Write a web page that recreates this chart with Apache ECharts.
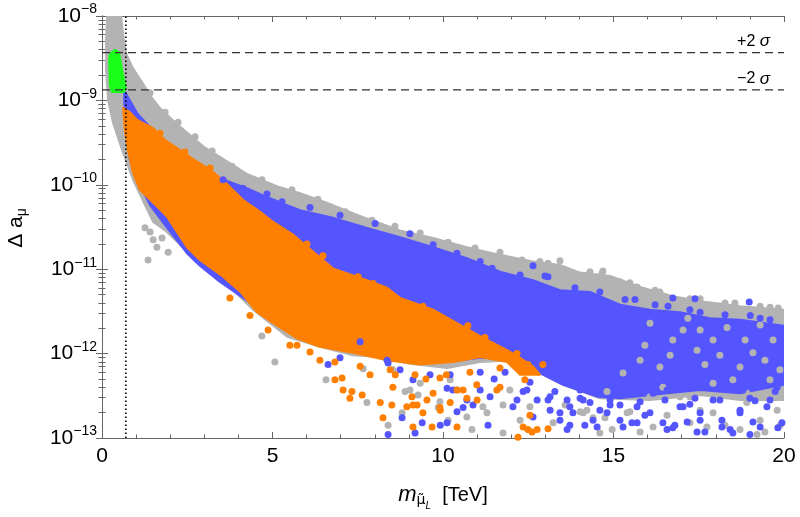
<!DOCTYPE html>
<html><head><meta charset="utf-8">
<script src="https://cdn.jsdelivr.net/npm/echarts@6/dist/echarts.min.js"></script>
<style>html,body{margin:0;padding:0;background:#fff}#c{width:800px;height:517px}</style>
</head><body><div id="c"></div>
<script>
// Axis ticks
const xTicks = [0, 5, 10, 15, 20];
const yTickExponents = [-13, -12, -11, -10, -9, -8];
// Reference lines
const sigmaLabels = ['+2 ', '\u22122 '];
const sigmaValues = [3.69e-9, 1.33e-9];
const massLimitTeV = 0.70;

// All pairs: [m_muL (TeV), log10(Δa_μ)]
// Dense regions (outlines of the point clouds)
const grayCore = [[0.15,-8.00],[0.56,-8.00],[0.62,-8.22],[0.70,-8.44],[0.91,-8.62],[1.17,-8.78],[1.41,-8.94],[1.70,-9.09],[2.14,-9.26],[2.58,-9.41],[3.02,-9.56],[3.46,-9.67],[4.25,-9.87],[5.22,-10.03],[5.81,-10.10],[6.77,-10.24],[7.77,-10.40],[8.74,-10.54],[9.71,-10.63],[10.70,-10.74],[11.67,-10.83],[12.64,-10.91],[13.43,-10.95],[14.02,-11.04],[14.90,-11.08],[15.78,-11.21],[16.74,-11.32],[17.74,-11.39],[18.71,-11.44],[20.00,-11.48],[20.00,-12.55],[18.71,-12.55],[17.54,-12.49],[16.07,-12.55],[14.60,-12.53],[13.52,-12.37],[12.84,-12.23],[12.05,-12.08],[11.09,-12.10],[10.12,-12.17],[9.03,-12.12],[8.15,-12.04],[7.36,-12.02],[6.39,-11.92],[5.43,-11.80],[4.43,-11.48],[3.55,-11.13],[2.87,-10.94],[2.29,-10.71],[1.85,-10.54],[1.50,-10.44],[1.26,-10.24],[0.91,-9.94],[0.59,-9.59],[0.32,-9.26],[0.18,-9.00],[0.12,-8.64],[0.12,-8.28]];
const blueCore = [[0.65,-8.88],[0.82,-9.00],[1.03,-9.15],[1.35,-9.29],[1.70,-9.43],[2.38,-9.67],[2.87,-9.80],[3.37,-9.91],[4.25,-10.04],[4.93,-10.16],[5.43,-10.24],[5.81,-10.30],[6.77,-10.39],[7.77,-10.51],[8.74,-10.62],[9.71,-10.74],[10.70,-10.87],[11.67,-11.03],[12.64,-11.13],[13.43,-11.25],[14.31,-11.27],[15.19,-11.42],[16.07,-11.48],[16.95,-11.51],[17.83,-11.58],[18.71,-11.60],[20.00,-11.67],[20.00,-12.37],[18.71,-12.47],[17.54,-12.43],[16.36,-12.48],[15.19,-12.53],[14.52,-12.51],[13.52,-12.37],[12.84,-12.23],[12.05,-12.05],[11.09,-12.05],[10.12,-12.10],[8.74,-12.02],[7.36,-11.92],[6.39,-11.84],[5.43,-11.72],[4.43,-11.42],[3.46,-11.15],[2.87,-10.96],[2.49,-10.81],[1.91,-10.51],[1.41,-10.24],[1.03,-9.94],[0.82,-9.71],[0.70,-9.35],[0.65,-9.00]];
const orangeCore = [[0.62,-9.09],[0.82,-9.14],[1.03,-9.23],[1.50,-9.33],[1.85,-9.47],[2.29,-9.59],[2.73,-9.71],[3.17,-9.82],[3.61,-9.97],[4.14,-10.18],[4.64,-10.32],[5.02,-10.44],[5.60,-10.59],[5.95,-10.71],[6.39,-10.86],[6.77,-10.99],[7.77,-11.13],[8.36,-11.22],[8.74,-11.34],[9.71,-11.48],[10.50,-11.66],[11.17,-11.81],[11.88,-11.96],[12.26,-12.05],[12.64,-12.15],[12.84,-12.25],[12.26,-12.25],[11.88,-12.10],[11.09,-12.04],[10.30,-12.10],[9.32,-12.13],[8.36,-12.08],[7.36,-11.99],[6.39,-11.92],[5.72,-11.82],[5.02,-11.64],[4.55,-11.51],[4.06,-11.27],[3.55,-11.09],[2.87,-10.89],[2.49,-10.74],[1.91,-10.38],[1.62,-10.26],[1.11,-10.06],[0.91,-9.86],[0.76,-9.59],[0.67,-9.35]];
const greenCore = [[0.38,-8.40],[0.50,-8.43],[0.59,-8.64],[0.70,-8.85],[0.65,-8.90],[0.29,-8.90],[0.23,-8.82],[0.21,-8.52],[0.23,-8.45]];

// Individual points (edges and sparse areas)
const grayPoints = [[1.41,-10.56],[1.50,-10.65],[1.76,-10.63],[1.61,-10.74],[1.94,-10.80],[1.35,-10.89],[1.26,-10.51],[4.69,-11.79],[5.07,-12.10],[6.57,-12.31],[7.66,-12.18],[7.77,-12.58],[8.39,-12.85],[8.80,-12.70],[8.89,-12.45],[9.27,-12.49],[9.86,-12.64],[10.15,-12.79],[10.21,-12.31],[10.70,-12.75],[10.85,-12.90],[11.29,-12.70],[11.76,-12.94],[12.26,-12.79],[13.23,-12.82],[13.58,-12.61],[14.11,-12.70],[14.40,-12.76],[14.96,-12.90],[15.48,-12.69],[16.16,-12.87],[16.57,-12.73],[17.24,-12.82],[17.92,-12.70],[18.71,-12.90],[19.30,-12.79],[19.80,-12.67],[19.89,-12.85],[12.84,-10.91],[13.43,-10.90],[14.69,-11.02],[15.19,-11.15],[16.22,-11.25],[17.24,-11.35],[18.27,-11.40],[19.30,-11.44],[19.83,-11.46],[14.66,-11.05],[15.69,-11.21],[17.54,-11.39],
  [1.41,-8.91],[1.85,-9.14],[2.23,-9.26],[2.73,-9.43],[3.23,-9.60],[3.81,-9.78],[4.69,-9.94],[5.57,-10.06],[6.33,-10.17],[7.13,-10.32],[7.92,-10.42],[8.59,-10.49],[9.33,-10.57],[10.15,-10.68],[10.94,-10.75],[11.67,-10.80],[12.32,-10.89],[13.08,-10.93],[14.31,-11.03],[15.48,-11.16],[16.36,-11.27],[17.54,-11.35],[18.56,-11.40],[19.59,-11.45],
  [8.53,-12.19],[9.03,-12.43],[9.33,-12.35],[9.91,-12.57],[10.41,-12.43],[11.17,-12.63],[11.76,-12.61],[11.96,-12.43],[12.55,-12.63],[14.22,-12.67],[14.75,-12.76],[15.78,-12.93],[17.54,-12.67],[18.27,-12.85],[19.44,-12.93],
  [14.02,-12.69],[15.40,-12.70],[16.95,-12.51],[17.74,-12.87],[18.91,-12.58],[19.21,-12.96],[16.07,-12.51],[14.81,-12.45],[14.60,-12.94]];
// gray points visible in the gaps between blue points (right part)
const grayGapPoints = [[16.07,-11.64],[16.74,-11.84],[17.04,-11.72],[17.45,-11.96],[17.92,-11.84],[18.33,-11.69],[18.71,-12.16],[19.09,-11.99],[19.68,-11.84],[18.50,-12.31],[17.92,-12.35],[16.36,-12.16],[15.78,-12.08],[15.28,-12.23],[16.45,-12.40],[17.24,-12.51],[18.91,-12.47],[19.59,-12.31],[17.68,-12.13],[19.30,-11.66],[17.18,-11.58],
  [15.92,-11.90],[16.66,-12.02],[18.12,-12.02],[18.86,-11.84],[19.44,-12.08],[17.54,-11.72],[19.88,-12.19]];
const bluePoints = [[8.39,-12.96],[9.18,-12.94],[10.12,-12.82],[10.41,-12.69],[10.88,-12.61],[11.32,-12.85],[12.05,-12.63],[12.64,-12.75],[13.08,-12.55],[13.64,-12.90],[13.81,-12.70],[14.52,-12.87],[14.90,-12.55],[15.54,-12.82],[15.69,-12.63],[16.16,-12.47],[16.57,-12.90],[17.04,-12.63],[17.54,-12.79],[17.92,-12.55],[18.42,-12.90],[18.71,-12.67],[19.30,-12.87],[19.59,-12.55],[19.94,-12.82],[19.80,-12.40],[18.80,-12.43],[16.57,-12.43],[15.10,-12.40],[6.63,-12.13],[7.57,-11.86],[8.36,-12.08],[8.80,-12.76],[9.39,-12.82],[9.92,-12.85],[10.29,-12.43],[10.59,-12.64],[13.87,-11.22],[15.34,-11.36],[16.22,-11.42],[17.54,-11.51],[19.01,-11.55],[19.59,-11.60],[13.08,-11.09],[16.74,-11.34],[17.39,-11.35],[18.98,-11.39],[6.98,-12.05],[17.24,-12.60],[19.15,-12.56],[14.60,-12.67],[12.35,-12.45],[11.50,-12.30],
  [3.55,-9.94],[4.13,-10.04],[4.84,-10.11],[5.28,-10.20],[6.10,-10.27],[6.98,-10.36],[8.01,-10.46],[9.03,-10.58],[9.71,-10.71],[10.41,-10.81],[11.09,-10.91],[11.44,-10.99],[12.26,-11.07],[12.64,-10.96],[12.99,-11.08],[14.60,-11.27],[15.63,-11.36],[16.60,-11.44],[17.24,-11.48],[18.27,-11.54],[19.30,-11.58],
  [10.21,-12.25],[11.09,-12.22],[11.82,-12.22],[12.55,-12.34],[13.28,-12.45],[14.02,-12.53],[14.90,-12.61],[15.78,-12.57],[16.51,-12.55],[17.39,-12.53],[18.12,-12.55],[19.00,-12.53],[19.74,-12.45],
  [8.39,-12.11],[8.74,-12.19],[9.12,-12.31],[9.62,-12.25],[10.12,-12.41],[10.70,-12.55],[11.09,-12.43],[11.38,-12.51],[12.17,-12.55],[12.46,-12.43],[12.76,-12.55],[13.14,-12.67],[13.64,-12.55],[14.02,-12.43],[14.31,-12.58],
  [15.19,-12.79],[15.92,-12.73],[16.80,-12.85],[18.18,-12.79],[19.00,-12.96],[17.68,-12.93],[14.16,-12.85],[13.43,-12.79],
  [13.14,-12.51],[13.72,-12.63],[14.11,-12.55],[14.40,-12.79],[14.81,-12.70],[15.19,-12.61],[15.69,-12.82],[16.07,-12.70],[16.45,-12.82],[16.95,-12.63],[17.16,-12.81],[17.54,-12.70],[18.18,-12.87],[18.71,-12.70],[19.09,-12.81],[19.50,-12.63],[19.82,-12.88],[13.72,-12.85],[15.28,-12.87],[17.45,-12.93],[18.50,-12.94],[16.74,-12.88],[13.43,-12.70]];
const orangePoints = [[7.07,-12.43],[7.27,-12.53],[7.33,-12.45],[7.63,-12.49],[7.86,-12.25],[8.16,-12.58],[8.24,-12.76],[8.50,-12.61],[8.94,-12.63],[9.09,-12.51],[9.24,-12.61],[9.41,-12.70],[9.68,-12.87],[9.12,-12.87],[9.71,-12.47],[9.92,-12.67],[10.41,-12.43],[10.41,-12.87],[10.70,-12.53],[10.99,-12.37],[11.67,-12.40],[12.55,-12.73],[12.49,-12.90],[12.76,-12.90],[12.20,-12.99],[6.83,-12.31],[7.04,-12.29],[6.39,-12.08],[12.93,-12.13],[13.08,-12.89],[5.72,-11.90],[8.60,-12.25],[9.50,-12.30],[10.10,-12.25],
  [6.01,-10.70],[6.48,-10.84],[7.51,-11.09],[7.95,-11.17],[9.41,-11.44],[9.97,-11.63],[10.73,-11.67],[11.23,-11.81],[12.17,-12.00],[12.49,-12.13],[4.13,-10.22],[3.17,-9.80],[2.43,-9.61],[1.70,-9.39],
  [3.75,-11.34],[4.34,-11.55],[4.87,-11.72],[5.51,-11.90],[6.10,-11.98],[6.83,-12.10],[7.57,-12.15],[8.45,-12.19],[9.18,-12.25],[9.91,-12.29],[10.79,-12.22],[11.67,-12.17],[12.40,-12.31],
  [8.53,-12.40],[9.12,-12.61],[9.53,-12.55],[9.91,-12.64],[10.21,-12.58],[10.59,-12.43],[11.00,-12.55],[11.58,-12.43],[12.35,-12.87],[12.61,-12.93]];

const COL = {gray:'#b3b3b3', blue:'#5555ff', orange:'#ff8000', green:'#1aff1a'};
const toVal = p => [p[0], Math.pow(10, p[1])];
const yMin = Math.pow(10, yTickExponents[0]);
const yMax = Math.pow(10, yTickExponents[yTickExponents.length - 1]);
const xMin = xTicks[0], xMax = xTicks[xTicks.length - 1];

function polySeries(name, verts, color) {
  const data = verts.map(toVal);
  return {
    type: 'custom', name, data, clip: true, silent: true,
    encode: {x: 0, y: 1},
    renderItem(params, api) {
      if (params.dataIndex !== 0) return null;
      const pts = data.map(d => api.coord(d));
      return {type: 'polygon', shape: {points: pts},
        style: {fill: color, stroke: color, lineWidth: 2, lineJoin: 'round'}};
    }
  };
}
function dotSeries(name, pts, color) {
  return {type: 'scatter', name, data: pts.map(toVal), symbolSize: 7,
    itemStyle: {color: color, opacity: 1}, silent: true, clip: true};
}
const axisCol = '#666';
const FONT = '"Liberation Sans", Arial, sans-serif';
const yFmt = v => {
  const e = Math.round(Math.log10(v));
  return '{b|10}{s|' + (e < 0 ? '\u2212' : '') + Math.abs(e) + '}';
};
const xAxisBase = {
  type: 'value', min: xMin, max: xMax, interval: 5,
  axisLine: {show: true, lineStyle: {color: axisCol, width: 1}},
  axisTick: {show: true, inside: true, length: 6, lineStyle: {color: axisCol}},
  minorTick: {show: true, splitNumber: 5, length: 3.5, lineStyle: {color: axisCol}},
  splitLine: {show: false}, minorSplitLine: {show: false}
};
const yAxisBase = {
  type: 'log', logBase: 10, min: yMin, max: yMax,
  axisLine: {show: true, lineStyle: {color: axisCol, width: 1}},
  axisTick: {show: true, inside: true, length: 6, lineStyle: {color: axisCol}},
  minorTick: {show: true, splitNumber: 9, length: 3.5, lineStyle: {color: axisCol}},
  splitLine: {show: false}, minorSplitLine: {show: false}
};

const chart = echarts.init(document.getElementById('c'), null, {renderer: 'canvas'});
const option = {
  animation: false,
  backgroundColor: '#fff',
  grid: {left: 102, right: 16, top: 16, bottom: 79, containLabel: false},
  xAxis: [
    Object.assign({}, xAxisBase, {position: 'bottom',
      axisLabel: {show: true, margin: 8, color: '#000', fontSize: 21, fontFamily: FONT}}),
    Object.assign({}, xAxisBase, {position: 'top', axisLabel: {show: false}})
  ],
  yAxis: [
    Object.assign({}, yAxisBase, {position: 'left',
      axisLabel: {show: true, margin: 5, formatter: yFmt,
        rich: {b: {fontSize: 21, color: '#000', fontFamily: FONT},
               s: {fontSize: 14, color: '#000', fontFamily: FONT, padding: [0, 0, 13, 0]}}}}),
    Object.assign({}, yAxisBase, {position: 'right', axisLabel: {show: false}})
  ],
  series: [
    polySeries('gray', grayCore, COL.gray),
    dotSeries('grayPts', grayPoints, COL.gray),
    polySeries('blue', blueCore, COL.blue),
    dotSeries('grayGaps', grayGapPoints, COL.gray),
    dotSeries('bluePts', bluePoints, COL.blue),
    polySeries('orange', orangeCore, COL.orange),
    dotSeries('orangePts', orangePoints, COL.orange),
    polySeries('green', greenCore, COL.green),
    ...sigmaValues.map(s => ({type: 'line', data: [[xMin, s], [xMax, s]], symbol: 'none', silent: true,
      lineStyle: {color: '#333', width: 1.3, type: [8, 5]}})),
    {type: 'line', data: [[massLimitTeV, yMin], [massLimitTeV, yMax]], symbol: 'none', silent: true,
      lineStyle: {color: '#000', width: 1.6, type: [1.6, 2.4]}}
  ]
};
chart.setOption(option);

const graphics = [];
sigmaValues.forEach((s, i) => {
  const p = chart.convertToPixel({xAxisIndex: 0, yAxisIndex: 0}, [xMax, s]);
  graphics.push({type: 'text', x: p[0] - 14, y: p[1] - 11, silent: true,
    style: {text: '{n|' + sigmaLabels[i] + '}{g|\u03c3}', align: 'right', verticalAlign: 'middle',
      rich: {n: {fontSize: 16, fontFamily: FONT, color: '#000'},
             g: {fontSize: 17, fontFamily: FONT, fontStyle: 'italic', color: '#000'}}}});
});
graphics.push({type: 'text', x: 443, y: 495, silent: true,
  style: {text: '{m|m}{s|\u03bc\u0303}{l|L}{t|  [TeV]}', align: 'center', verticalAlign: 'middle',
    rich: {m: {fontSize: 22, fontStyle: 'italic', fontFamily: FONT, color: '#000'},
           s: {fontSize: 14, fontFamily: '"DejaVu Sans", sans-serif', color: '#000', padding: [11, 0, 0, 0]},
           l: {fontSize: 10, fontStyle: 'italic', fontFamily: FONT, color: '#000', padding: [22, 0, 0, 0]},
           t: {fontSize: 20, fontFamily: FONT, color: '#000'}}}});
graphics.push({type: 'text', x: 16, y: 228, rotation: Math.PI / 2, silent: true,
  style: {text: '{d|\u0394 }{a|a}{s|\u03bc}', align: 'center', verticalAlign: 'middle',
    rich: {d: {fontSize: 21, fontFamily: FONT, color: '#000'},
           a: {fontSize: 21, fontFamily: FONT, color: '#000'},
           s: {fontSize: 14, fontFamily: FONT, color: '#000', padding: [12, 0, 0, 0]}}}});
chart.setOption({graphic: graphics});
</script></body></html>
